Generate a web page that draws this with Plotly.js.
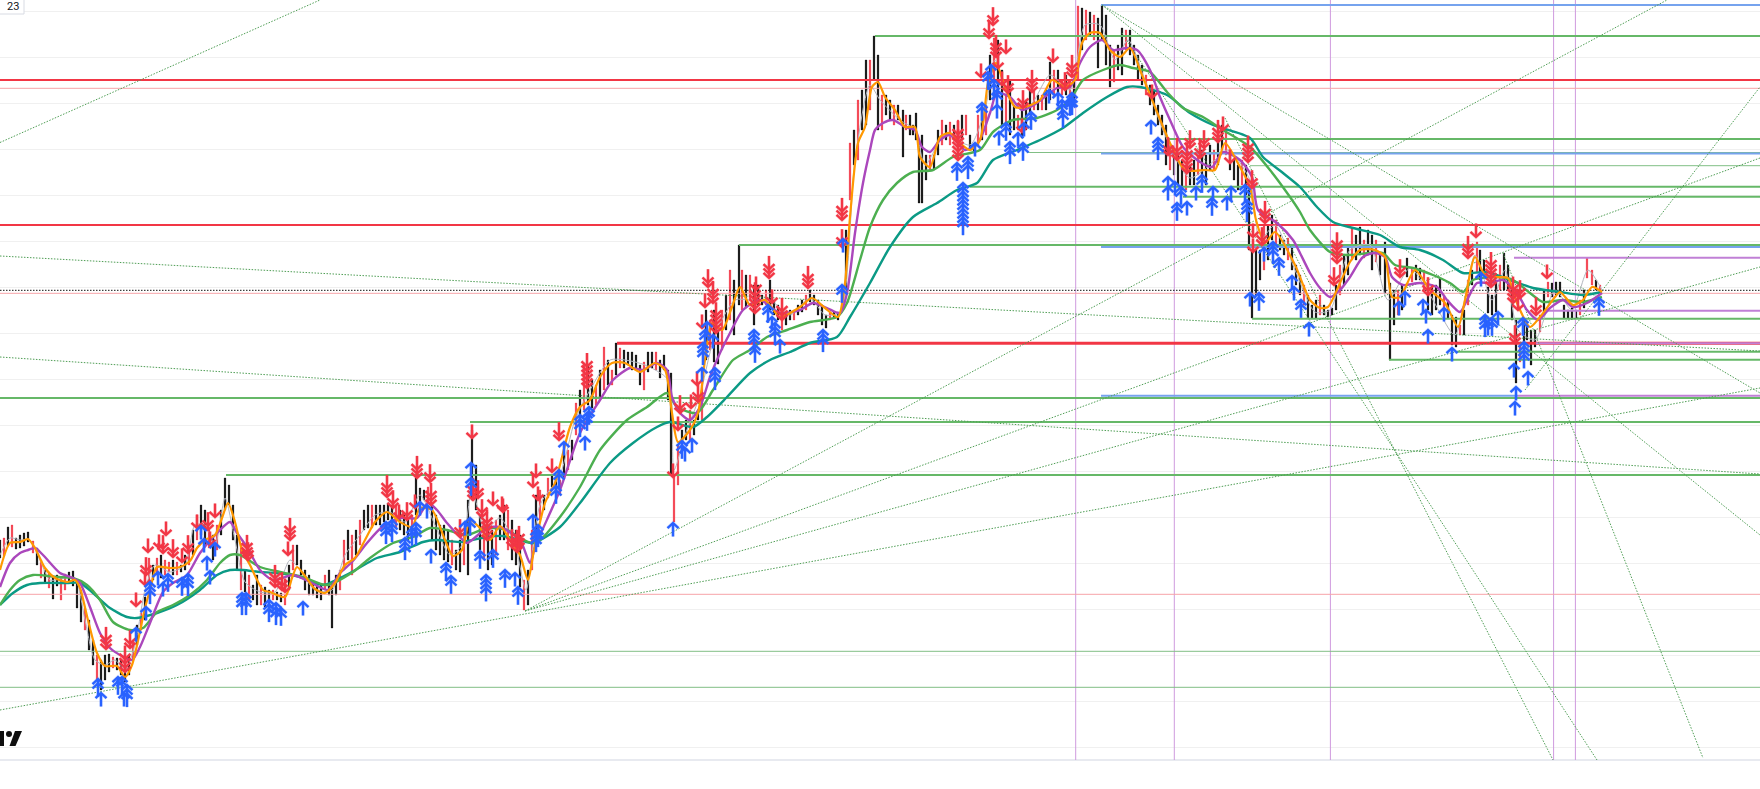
<!DOCTYPE html>
<html><head><meta charset="utf-8">
<script src="https://cdn.plot.ly/plotly-3.0.1.min.js"></script>
<style>html,body{margin:0;padding:0;background:#fff}#chart{width:1760px;height:789px}</style>
</head><body><div id="chart"></div>
<script>
// candle values (price axis runs in picture units)
const barX=[0,4,8,12,16,20,24,28,33,37,41,45,49,53,57,61,65,69,73,77,81,85,89,93,97,101,105,109,113,117,121,125,129,133,137,141,145,149,153,157,161,165,169,173,177,181,185,189,193,197,201,205,209,213,217,221,225,229,233,237,241,245,249,253,257,261,265,269,273,277,281,285,289,293,297,301,305,309,313,317,321,325,329,332,336,340,344,348,352,356,360,364,368,372,376,380,384,388,392,396,400,404,408,412,416,420,424,428,432,436,440,444,448,452,456,460,464,468,472,476,480,484,488,492,496,500,504,508,512,516,520,524,528,532,536,540,544,548,552,556,560,564,568,572,576,580,584,588,592,596,600,604,608,612,616,620,624,628,632,636,640,644,648,652,656,660,664,668,671,674,678,682,686,690,694,698,702,706,710,714,718,722,726,730,734,739,742,746,750,754,758,762,766,770,774,778,782,786,790,794,798,802,806,810,814,818,822,826,830,834,838,842,846,850,854,858,862,866,870,874,878,882,886,890,894,898,903,906,910,913,916,919,922,926,930,934,938,942,946,950,954,958,962,966,970,974,978,982,986,990,994,998,1002,1006,1010,1014,1018,1022,1026,1030,1034,1038,1042,1046,1050,1054,1058,1062,1066,1070,1074,1078,1082,1086,1090,1094,1098,1102,1106,1110,1114,1118,1122,1126,1130,1134,1138,1142,1146,1150,1154,1158,1162,1166,1170,1174,1178,1182,1186,1190,1194,1198,1202,1206,1210,1214,1218,1222,1226,1230,1234,1238,1242,1246,1249,1252,1256,1260,1264,1268,1272,1276,1280,1284,1288,1292,1296,1300,1304,1308,1312,1316,1320,1324,1328,1332,1336,1340,1344,1348,1352,1356,1360,1364,1368,1372,1376,1380,1385,1390,1394,1398,1402,1407,1412,1416,1420,1424,1428,1432,1436,1440,1444,1448,1452,1456,1460,1464,1468,1472,1477,1480,1484,1488,1492,1496,1500,1504,1508,1512,1516,1520,1524,1527,1531,1535,1540,1544,1548,1552,1556,1560,1564,1568,1572,1576,1580,1584,1587,1592,1596,1600];
const barHigh=[540,538,527,525,538,535,533,532,541,548,560,570,572,576,575,578,574,572,571,580,590,608,620,640,655,660,655,654,657,658,660,670,655,640,625,613,597,558,565,558,555,560,562,560,562,565,555,545,530,515,505,510,530,535,525,510,478,485,505,535,545,570,575,585,575,585,587,590,590,592,593,595,565,545,545,560,570,575,582,585,585,575,570,582,575,570,540,530,535,530,520,510,505,505,505,505,505,503,505,505,510,515,520,515,478,488,490,487,503,515,525,525,530,540,550,540,535,500,430,465,515,520,525,530,520,515,505,510,520,530,535,580,570,530,495,490,495,478,475,478,480,455,450,440,403,390,363,365,380,385,370,347,360,370,343,348,350,352,352,355,365,362,352,352,352,360,355,370,373,475,445,430,420,410,420,410,385,310,320,310,330,310,295,270,280,245,270,275,275,285,285,295,290,280,300,305,310,312,310,310,305,300,295,290,295,300,305,315,312,312,312,290,230,143,130,100,90,60,60,36,55,95,95,100,105,105,110,115,115,125,113,140,135,155,155,155,130,120,125,122,125,120,115,115,135,145,115,110,105,55,38,40,70,95,80,105,115,110,100,90,90,95,95,90,62,70,70,80,75,80,80,6,8,10,12,15,18,5,15,45,50,45,28,30,30,45,55,65,75,85,90,105,115,125,145,150,155,160,165,165,160,155,150,155,145,150,140,125,130,150,160,165,160,165,190,250,250,250,225,225,215,220,235,240,238,245,265,275,285,295,305,300,295,305,310,308,285,265,255,245,228,235,227,240,230,235,240,255,242,283,290,290,285,258,268,265,268,270,285,285,285,278,295,300,315,317,325,310,280,270,242,250,260,287,295,280,265,253,265,285,320,345,320,325,330,330,315,290,282,283,282,282,305,310,308,310,300,290,258,270,280,285];
const barLow=[558,556,546,547,549,548,546,542,553,565,578,582,588,599,586,600,590,582,586,608,622,630,650,665,680,690,680,672,668,670,675,682,675,660,645,630,620,583,580,575,578,575,572,575,575,572,570,565,555,540,535,545,548,560,550,535,510,505,540,570,590,592,600,600,605,605,607,603,600,600,602,605,590,570,565,575,590,595,595,598,600,590,595,628,595,590,570,560,575,555,545,530,528,528,525,525,522,520,525,528,530,535,540,530,515,505,500,503,540,550,555,560,562,565,570,572,565,575,500,510,550,560,570,565,555,540,540,550,560,565,587,610,605,570,530,520,510,498,487,490,495,478,470,460,435,420,410,405,408,405,400,390,385,385,375,368,368,365,370,368,385,390,372,368,370,378,370,400,475,522,485,440,440,440,435,420,420,360,350,362,364,350,330,320,335,305,310,308,300,325,305,305,305,310,315,320,330,325,320,320,315,312,310,302,305,315,325,328,320,318,320,310,290,200,165,160,130,125,110,80,130,130,115,120,125,120,157,130,135,135,140,203,203,180,170,170,155,145,140,145,140,138,140,135,150,152,145,140,135,100,85,90,125,125,135,130,130,138,130,115,110,110,110,110,100,95,95,95,95,100,105,80,50,40,35,40,68,40,65,87,82,70,75,50,55,65,80,85,95,105,115,125,135,165,170,175,185,190,190,185,185,175,178,185,170,170,165,150,155,170,180,190,185,195,250,318,295,280,270,260,240,245,250,255,260,270,285,295,305,318,318,318,315,315,317,315,310,295,285,275,260,260,255,258,255,270,262,275,293,360,325,315,310,277,282,280,280,290,310,315,310,305,310,318,345,347,335,335,305,285,273,280,275,313,315,312,290,290,290,320,383,362,345,340,365,347,332,315,297,297,295,297,318,318,318,318,315,308,278,285,290,292];
const redBarX=[4,12,33,41,49,61,65,85,97,113,133,141,149,157,165,169,177,189,197,209,217,241,249,261,273,285,293,325,340,344,352,360,372,396,412,428,452,464,484,496,508,524,532,540,548,560,568,576,584,596,604,612,620,644,656,674,678,690,702,710,722,730,742,750,766,782,794,806,830,842,850,858,870,882,894,906,930,942,950,958,966,978,986,994,1006,1018,1034,1042,1054,1062,1070,1078,1086,1094,1114,1126,1146,1170,1186,1198,1214,1226,1242,1264,1276,1288,1304,1320,1340,1352,1364,1376,1398,1412,1424,1444,1460,1468,1477,1500,1520,1540,1548,1580,1587,1592,1600];

// moving averages
const greyX=[0,10,20,30,40,50,65,75,85,95,105,115,125,135,145,155,170,185,195,205,215,225,235,245,260,275,290,300,315,332,345,360,375,390,405,420,435,450,462,472,485,500,515,526,540,560,575,590,610,625,645,668,674,685,700,715,735,750,770,790,810,825,840,855,870,880,900,915,925,945,970,985,995,1010,1030,1050,1070,1085,1100,1115,1128,1145,1165,1190,1215,1228,1250,1260,1275,1295,1315,1330,1350,1370,1388,1410,1430,1455,1475,1492,1505,1518,1535,1555,1572,1588,1602];
const greyY=[555,538,540,540,560,580,578,578,620,660,665,660,670,645,590,565,572,565,525,525,545,498,540,582,592,592,560,570,590,590,555,535,515,512,522,495,525,555,545,490,530,518,545,590,505,475,420,390,360,360,365,380,470,435,395,335,300,300,300,315,298,315,312,160,85,100,120,130,165,135,145,110,60,100,105,75,90,25,25,60,40,80,135,178,160,150,180,240,225,270,312,310,250,245,300,268,295,335,255,300,270,330,340,290,310,270,290];
const orangeX=[0,10,20,28,35,45,55,67,75,80,87,97,105,117,125,132,145,150,157,170,180,190,197,205,215,222,228,235,242,250,263,270,285,292,297,305,315,325,335,345,355,365,375,387,400,412,420,432,445,453,462,470,480,490,500,510,520,528,534,545,555,562,570,580,590,600,612,625,640,655,665,672,678,690,698,705,712,722,732,740,750,765,780,800,812,825,838,845,850,858,865,872,878,885,895,905,915,920,930,940,950,960,970,980,988,996,1005,1015,1025,1040,1052,1065,1075,1082,1090,1100,1110,1120,1130,1142,1155,1170,1185,1205,1215,1225,1240,1250,1256,1265,1275,1295,1310,1320,1328,1340,1350,1360,1375,1385,1392,1400,1415,1430,1445,1458,1465,1475,1485,1497,1508,1517,1530,1540,1555,1560,1573,1583,1592,1602];
const orangeY=[570,543,542,539,548,568,578,582,580,588,616,653,666,666,677,665,608,590,567,568,567,561,548,540,535,518,503,522,550,565,590,592,597,578,567,576,589,593,583,565,558,540,522,512,522,527,508,510,540,556,550,520,528,540,526,540,555,580,550,503,483,457,427,407,400,377,363,363,372,363,370,413,442,430,413,360,323,330,307,287,305,300,317,307,298,308,317,283,217,143,127,87,82,97,110,127,127,157,167,137,133,143,150,140,83,63,87,107,107,100,80,87,80,43,33,33,50,57,48,75,107,143,170,170,170,143,167,187,220,243,232,265,300,308,307,283,262,250,250,257,297,297,270,290,303,327,300,257,275,277,278,303,327,317,297,292,305,300,287,292];
const purpleX=[0,10,20,28,35,43,60,73,80,90,100,110,122,132,140,150,163,173,187,200,217,230,237,247,260,273,293,310,328,340,352,367,382,400,417,428,437,447,460,467,487,500,520,530,535,560,580,600,613,630,643,657,667,672,680,690,700,710,720,730,743,760,780,800,813,827,840,847,855,863,870,875,883,893,905,915,922,930,940,950,965,978,990,997,1010,1022,1037,1057,1070,1080,1090,1102,1113,1127,1137,1150,1160,1170,1183,1200,1212,1223,1240,1252,1258,1277,1293,1300,1310,1320,1330,1340,1350,1363,1375,1385,1392,1403,1420,1437,1447,1460,1467,1477,1490,1503,1517,1527,1538,1550,1563,1573,1587,1602];
const purpleY=[587,563,553,550,548,555,573,578,583,607,633,648,656,660,647,623,592,583,575,553,533,522,533,547,570,580,575,582,590,573,562,543,527,518,518,503,510,523,537,543,528,527,540,563,547,490,433,400,380,368,370,363,370,397,413,420,407,377,353,333,310,300,313,310,303,308,313,293,233,183,150,130,123,120,127,130,147,152,140,135,150,143,113,93,97,110,103,88,87,63,47,40,50,48,50,70,97,120,147,162,167,152,160,177,210,223,240,253,273,288,297,290,277,257,253,257,277,285,283,287,300,312,300,283,283,280,293,310,320,308,300,307,303,293];
const greenX=[0,10,20,33,57,73,87,100,113,130,143,157,173,190,207,220,230,240,260,280,303,327,353,370,393,413,430,447,467,487,507,520,532,540,560,580,600,627,647,667,677,697,713,733,750,767,787,810,837,847,860,870,883,897,913,933,953,980,993,1013,1037,1057,1070,1083,1103,1120,1133,1150,1167,1183,1203,1223,1250,1270,1290,1300,1310,1330,1347,1370,1383,1395,1413,1433,1450,1463,1473,1497,1513,1530,1543,1563,1583,1602];
const greenY=[605,590,580,575,577,578,585,600,622,630,628,612,605,595,580,563,555,555,567,572,577,585,572,558,543,537,528,530,535,528,530,538,543,540,517,487,450,420,407,393,407,413,390,360,350,337,330,322,317,303,260,227,200,183,172,170,157,150,132,120,118,110,100,80,70,65,68,72,92,108,117,130,147,170,197,212,230,252,255,253,253,265,268,275,283,292,280,277,280,293,302,300,302,297];
const tealX=[0,13,27,40,67,80,93,110,127,137,157,177,200,217,230,243,260,277,300,323,350,377,400,423,437,460,487,503,520,533,560,580,610,633,657,670,693,707,727,750,770,790,810,837,850,870,890,913,937,957,977,993,1017,1040,1063,1083,1107,1127,1140,1167,1190,1213,1250,1263,1283,1300,1317,1333,1353,1380,1400,1420,1443,1463,1487,1510,1533,1560,1583,1602];
const tealY=[605,593,585,583,583,583,593,608,617,618,613,605,590,575,570,570,572,573,577,585,573,558,552,542,540,542,537,536,540,543,527,503,463,443,427,422,427,417,397,373,360,352,343,337,317,283,247,217,203,190,183,160,150,140,128,113,97,87,87,95,113,125,138,157,173,187,207,222,228,235,247,250,260,273,272,280,288,292,295,292];

// horizontal levels, each with the x where it starts
const redLevelY=[80,225], redLevelStart=[0,0];
const heavyRedLevelY=[343.3], heavyRedLevelStart=[617];
const pinkLevelY=[88.3,293.3,594.3], pinkLevelStart=[0,0,0];
const greenLevelY=[36,139,186.7,196.7,245,318.7,351.7,359.7,398,422,475], greenLevelStart=[875,1167,970,1183,739,1252,1457,1389,0,470,226];
const thinGreenLevelY=[152.5,165.7,651.3,687.3], thinGreenLevelStart=[1027,1250,0,0];
const blueLevelY=[5,153.5,247,395.7], blueLevelStart=[1101,1101,1101,1101], blueLevelEnd=[1760,1760,1760,1518];
const purpleLevelY=[257.7,310.7,343.3,395.7], purpleLevelStart=[1514,1548,1536,1518];
const dottedLevelY=290.3;
const gridY=[11.3,57.3,103.3,149.3,195.3,241.3,287.3,333.3,379.3,425.3,471.3,517.3,563.3,609.3,655.3,701.3,747.3];
const timeMarkX=[1075.7,1174.3,1330.4,1553.6,1575.4];

// trend lines
const trendX0=[0,525,525,525,1102,1102,1122,1225,1503,1525,0,0,0];
const trendY0=[710,611,611,611,5,5,33,118,253,390,256,357,142.5];
const trendX1=[1760,1760,1760,1667,1760,1760,1597,1553,1703,1760,1760,1760,320];
const trendY1=[388,267,158,0,393,535,760,760,758,87,351,474,0];

// signal arrows: tip position and number of chevrons
const upX=[98,101,118,122,124,127,136,146,150,158,163,168,182,188,201,204,207,210,215,242,246,269,276,281,303,386,392,405,412,416,420,427,431,446,451,471,471,470,465,480,493,486,505,515,518,533,536,538,556,559,564,585,580,589,587,673,682,685,692,702,715,703,705,707,713,754,755,768,772,775,780,823,843,842,963,957,968,975,982,991,988,994,997,997,999,1006,1010,1018,1023,1024,1031,1049,1058,1062,1063,1072,1070,1151,1158,1168,1168,1175,1181,1177,1187,1196,1202,1213,1212,1227,1231,1245,1247,1250,1259,1264,1273,1279,1292,1294,1301,1309,1399,1405,1423,1426,1428,1444,1452,1481,1485,1492,1498,1488,1523,1524,1514,1528,1516,1515,1599];
const upY=[679,693,677,677,693,685,628,607,582,572,583,574,578,574,526,539,557,571,543,593,593,600,603,608,602,522,520,538,528,523,502,505,550,563,576,463,478,518,522,551,550,575,570,573,587,515,530,525,486,470,442,437,415,407,413,523,441,448,439,368,368,343,330,322,335,330,345,305,317,323,340,330,239,285,183,163,157,143,103,65,72,80,90,105,132,123,142,133,143,123,112,90,93,100,110,93,98,121,138,177,187,182,187,203,202,187,175,187,198,197,187,185,200,293,293,248,242,258,276,287,300,323,302,292,300,310,330,308,348,273,315,318,312,322,318,342,364,372,387,402,298];
const upN=[2,1,2,2,1,3,1,1,3,1,1,2,2,3,1,1,1,1,1,3,3,3,3,2,1,3,3,3,2,3,1,1,1,2,2,1,2,2,1,2,2,4,2,1,2,1,3,3,2,2,1,1,3,2,2,1,2,1,1,1,3,3,2,1,1,3,2,2,1,3,1,3,1,2,10,2,3,1,2,1,2,2,2,1,1,2,3,1,2,1,2,1,1,2,2,3,2,1,3,1,1,1,2,2,1,1,2,1,2,1,1,2,3,1,2,1,3,2,1,1,2,1,1,1,1,1,1,1,1,1,3,2,1,1,2,4,1,1,1,1,2];
const downX=[106,125,130,136,145,146,148,159,163,166,173,182,188,197,208,210,215,247,248,275,282,285,290,288,387,393,399,407,415,417,430,431,460,472,473,478,482,487,493,502,517,503,519,512,533,536,538,552,559,587,708,705,702,713,716,756,755,769,772,782,808,680,678,691,698,697,673,842,842,993,989,996,1006,981,998,1002,1008,1032,1023,1022,1053,1065,1072,958,958,1152,1168,1177,1187,1190,1200,1204,1218,1223,1230,1248,1252,1265,1253,1262,1253,1337,1334,1400,1428,1476,1468,1491,1520,1513,1518,1536,1547,1515];
const downY=[649,672,648,606,585,575,552,548,553,535,557,562,553,528,530,545,517,557,560,587,590,592,540,555,497,508,518,520,508,478,482,505,537,438,500,498,517,540,505,510,552,512,548,547,487,477,500,472,440,388,287,307,328,303,333,290,313,278,303,320,288,413,430,408,402,385,477,220,247,25,38,57,53,77,68,85,93,92,108,132,62,90,77,160,143,98,155,160,173,148,158,148,142,130,163,162,188,223,237,245,252,263,285,277,295,237,258,287,298,303,310,315,278,343];
const downN=[3,4,2,1,1,2,1,1,2,1,2,1,2,1,2,1,1,3,2,3,2,1,3,1,3,2,1,2,1,3,2,3,2,1,3,2,2,5,1,1,3,1,3,2,1,1,1,1,2,6,2,1,1,3,5,1,5,3,1,3,3,2,1,1,2,1,1,3,2,2,2,3,1,1,1,1,2,3,2,1,1,2,3,5,3,1,2,3,5,2,2,2,3,1,1,4,2,3,1,2,1,5,2,2,2,1,3,6,2,4,1,2,1,2];

// colours
const RED='#f23645', PINK='#f7a3a8', GREEN='#66b868', THINGREEN='#81bf85', BLUE='#76a3ee', LEVELPURPLE='#c080d6';
const VLINE='#cf9ade', DOT='#4f9e55', UP='#2962ff', DOWN='#f23645';

const W=1760,H=789,BOTTOM=760;
function segs(pairs,color,width,dash){
  const x=[],y=[];
  pairs.forEach(p=>{x.push(p[0],p[2],null);y.push(p[1],p[3],null);});
  return {type:'scatter',mode:'lines',x,y,hoverinfo:'skip',showlegend:false,connectgaps:false,
          line:{color,width,dash:dash||'solid'}};
}
function levels(ys,starts,color,width,ends){
  return segs(ys.map((v,i)=>[starts[i],v,ends?ends[i]:W,v]),color,width);
}
function arrowPath(xs,ys,ns,dir){
  // an arrow is a stem and n chevrons, built around its tip
  const px=[],py=[],sp=4.3,hw=5.5,hd=5.2,stem=13.5;
  xs.forEach((x,i)=>{
    const tip=ys[i],n=ns[i];
    for(let k=0;k<n;k++){
      const a=tip+dir*k*sp;
      px.push(x-hw,x,x+hw,null);py.push(a+dir*hd,a,a+dir*hd,null);
    }
    px.push(x,x,null);py.push(tip,tip+dir*(stem+(n-1)*sp),null);
  });
  return {px,py};
}
function arrows(xs,ys,ns,dir,color,halo){
  const {px,py}=arrowPath(xs,ys,ns,dir);
  const base={type:'scatter',mode:'lines',x:px,y:py,hoverinfo:'skip',showlegend:false};
  return [Object.assign({},base,{line:{color:halo,width:3.6}}),Object.assign({},base,{line:{color,width:2.3}})];
}
const ma=(x,y,color,width)=>({type:'scatter',mode:'lines',x,y,hoverinfo:'skip',showlegend:false,
                              line:{color,width,shape:'spline',smoothing:0.7}});
const redSet=new Set(redBarX);
const opens=barX.map((x,i)=>redSet.has(x)?barLow[i]:barHigh[i]);
const closes=barX.map((x,i)=>redSet.has(x)?barHigh[i]:barLow[i]);

const traces=[
  segs(timeMarkX.map(x=>[x,0,x,BOTTOM]),VLINE,1),
  levels(pinkLevelY,pinkLevelStart,PINK,1),
  levels(thinGreenLevelY,thinGreenLevelStart,THINGREEN,1),
  levels(greenLevelY,greenLevelStart,GREEN,2),
  levels(blueLevelY,blueLevelStart,BLUE,2,blueLevelEnd),
  levels(redLevelY,redLevelStart,RED,2),
  levels(heavyRedLevelY,heavyRedLevelStart,RED,3),
  levels(purpleLevelY,purpleLevelStart,LEVELPURPLE,2),
  segs([[0,dottedLevelY,W,dottedLevelY]],'#111',1,'1.5px,1.5px'),
  segs(trendX0.map((x,i)=>[x,trendY0[i],trendX1[i],trendY1[i]]),DOT,1,'1.5px,1.5px'),
  {type:'candlestick',x:barX,open:opens,high:barHigh,low:barLow,close:closes,hoverinfo:'skip',showlegend:false,
   increasing:{line:{color:'#000',width:0.4},fillcolor:'#000'},
   decreasing:{line:{color:RED,width:0.4},fillcolor:RED},whiskerwidth:0},
  ma(greyX,greyY,'#b2b5be',1),
  ma(tealX,tealY,'#0b9a85',2.4),
  ma(greenX,greenY,'#4caf50',2.4),
  ma(purpleX,purpleY,'#ab47bc',2.4),
  ma(orangeX,orangeY,'#ff9800',2.2),
  ...arrows(downX,downY,downN,-1,DOWN,'rgba(242,54,69,0.22)'),
  ...arrows(upX,upY,upN,1,UP,'rgba(41,98,255,0.22)')
];
const layout={
  width:W,height:H,margin:{l:0,r:0,t:0,b:0},paper_bgcolor:'#fff',plot_bgcolor:'#fff',showlegend:false,boxgap:0.3,
  xaxis:{range:[0,W],visible:false,fixedrange:true,rangeslider:{visible:false}},
  yaxis:{range:[H,0],fixedrange:true,zeroline:false,showline:false,showticklabels:false,ticks:'',
         tickmode:'array',tickvals:gridY,gridcolor:'#f0f0f0',gridwidth:1.5},
  shapes:[
    {type:'line',xref:'x',yref:'y',x0:0,x1:W,y0:BOTTOM,y1:BOTTOM,line:{color:'#e0e3eb',width:1.5},layer:'below'},
    {type:'rect',xref:'x',yref:'y',x0:-4,x1:24,y0:-4,y1:14,line:{color:'#d8dbe3',width:1},fillcolor:'#fff'},
    {type:'rect',xref:'x',yref:'y',x0:0,x1:4,y0:731,y1:746,line:{width:0},fillcolor:'#0f0f0f'},
    {type:'circle',xref:'x',yref:'y',x0:6,x1:12,y0:731,y1:737,line:{width:0},fillcolor:'#0f0f0f'},
    {type:'path',xref:'x',yref:'y',path:'M15,731 L22,731 L15.5,746 L9.5,746 Z',line:{width:0},fillcolor:'#0f0f0f'}
  ],
  annotations:[{xref:'x',yref:'y',x:12.5,y:6.5,yanchor:'middle',text:'23',showarrow:false,borderpad:0,font:{family:'Roboto, Arial, sans-serif',size:11,color:'#131722'}}]
};
Plotly.newPlot('chart',traces,layout,{displayModeBar:false,staticPlot:true});
</script></body></html>
